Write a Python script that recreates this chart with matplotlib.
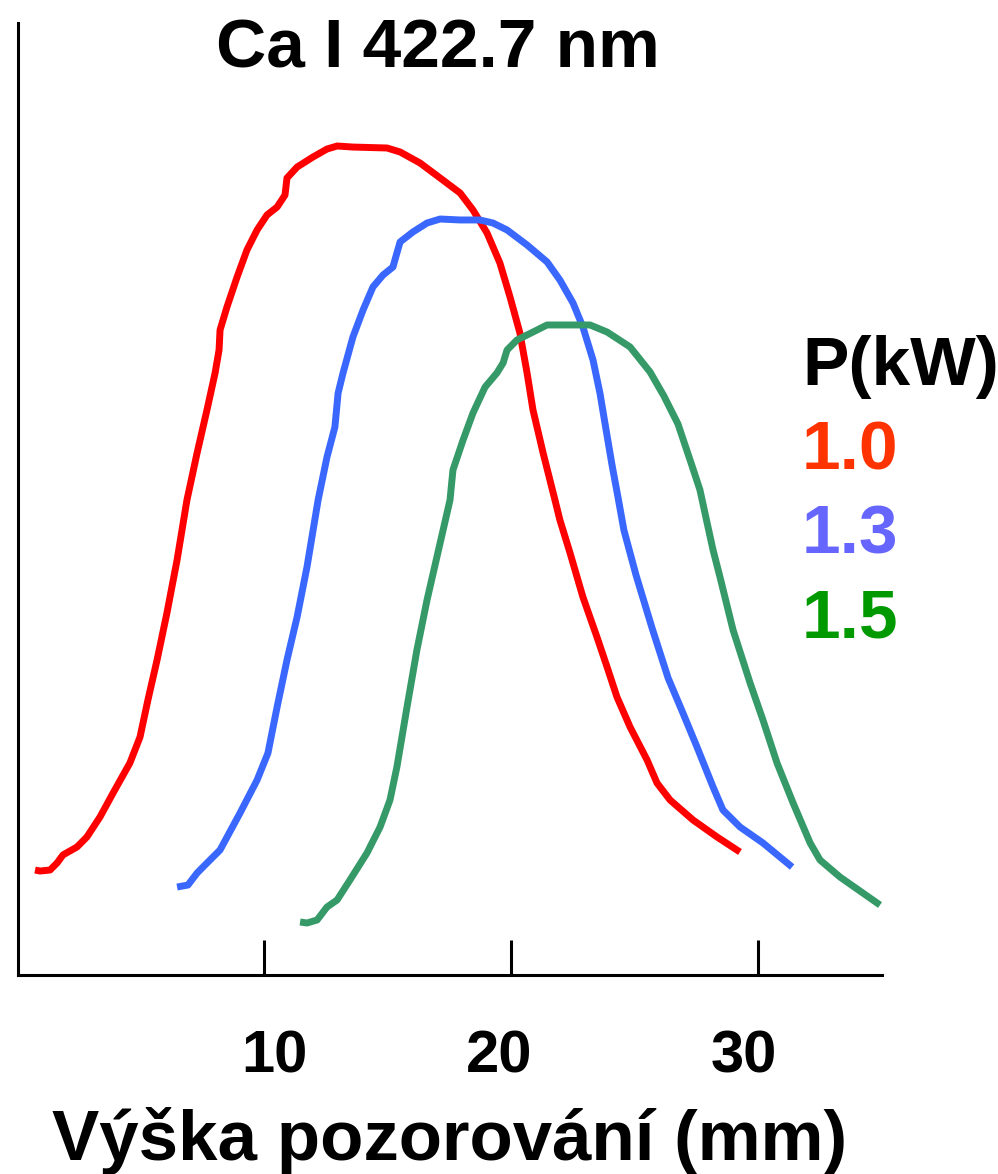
import numpy as np
import matplotlib
matplotlib.use('Agg')
import matplotlib.pyplot as plt
import matplotlib.transforms as mtrans

plt.rcParams['font.family'] = ['Liberation Sans', 'DejaVu Sans']
plt.rcParams['font.weight'] = 'bold'

# vyska pozorovani (mm) a relativni intenzita
x_10 = [0.73, 0.93, 1.34, 1.62, 1.86, 2.43, 2.83, 3.36, 3.89, 4.57, 4.98, 5.30, 5.67, 6.07, 6.48, 6.88,
        7.29, 7.69, 8.02, 8.18, 8.22, 8.50, 8.91, 9.31, 9.72, 10.12, 10.53, 10.85, 10.93, 11.34, 11.98,
        12.55, 12.96, 13.60, 14.98, 15.51, 16.32, 17.13, 17.94, 18.46, 19.03, 19.55, 19.96, 20.36, 20.65,
        20.89, 21.30, 21.78, 21.98, 22.39, 22.91, 23.48, 23.89, 24.29, 24.82, 25.51, 25.91, 26.44, 27.37,
        28.34, 29.27]
y_10 = [11.03, 10.92, 11.03, 11.76, 12.61, 13.45, 14.50, 16.60, 19.12, 22.27, 25.00, 28.89, 33.09, 38.03,
        43.59, 49.89, 54.83, 59.35, 63.24, 65.65, 67.75, 70.17, 73.32, 76.16, 78.26, 79.83, 80.67, 81.93,
        83.72, 84.87, 85.92, 86.76, 87.08, 86.97, 86.87, 86.45, 85.29, 83.72, 82.14, 80.36, 77.94, 74.79,
        71.22, 67.44, 63.24, 59.35, 54.83, 49.89, 47.79, 44.33, 39.71, 35.50, 32.35, 29.20, 26.05, 22.58,
        20.17, 18.38, 16.28, 14.50, 12.92]

x_13 = [6.48, 6.92, 7.29, 7.69, 8.22, 9.03, 9.72, 10.16, 10.53, 10.93, 11.34, 11.74, 12.19, 12.55, 12.87,
        13.00, 13.20, 13.60, 14.01, 14.41, 14.82, 15.22, 15.38, 15.51, 16.03, 16.60, 17.13, 17.94, 18.74,
        19.27, 19.84, 20.65, 21.46, 21.98, 22.51, 22.91, 23.32, 23.60, 23.85, 24.09, 24.33, 24.57, 25.06,
        25.71, 26.36, 26.96, 27.53, 28.18, 28.58, 29.27, 30.20, 31.38]
y_13 = [9.24, 9.45, 10.71, 11.76, 13.13, 17.02, 20.48, 23.32, 28.15, 33.09, 37.61, 42.86, 49.89, 54.41,
        57.56, 61.13, 63.24, 67.02, 69.85, 72.27, 73.53, 74.37, 75.84, 77.00, 78.05, 78.99, 79.41, 79.31,
        79.31, 78.99, 78.26, 76.68, 74.90, 73.00, 70.59, 68.07, 64.60, 61.13, 57.25, 53.57, 50.21, 46.74,
        42.02, 36.45, 31.20, 27.52, 23.95, 19.75, 17.33, 15.55, 13.87, 11.34]

x_15 = [11.46, 11.74, 12.15, 12.55, 12.96, 13.48, 14.17, 14.70, 15.10, 15.38, 15.79, 16.19, 16.60, 17.00,
        17.53, 17.65, 18.06, 18.46, 18.95, 19.43, 19.68, 19.84, 20.24, 20.89, 21.46, 22.27, 23.20, 23.89,
        24.82, 25.63, 26.19, 26.76, 27.33, 27.65, 27.94, 28.18, 28.46, 28.99, 29.68, 30.20, 30.77, 31.42,
        32.11, 32.51, 33.32, 34.94]
y_15 = [5.57, 5.46, 5.78, 7.14, 7.88, 9.98, 12.82, 15.55, 18.38, 21.85, 28.15, 34.14, 39.39, 43.91,
        49.89, 53.05, 56.20, 59.03, 61.76, 63.24, 64.29, 65.65, 66.70, 67.54, 68.28, 68.28, 68.28, 67.54,
        65.97, 63.34, 60.82, 57.88, 53.47, 50.95, 47.48, 44.64, 41.81, 36.24, 30.67, 26.79, 22.27, 18.07,
        13.87, 12.08, 10.29, 7.35]

powers = ['1.0', '1.3', '1.5']
line_colors = ['#ff0000', '#3a68ff', '#369a68']
text_colors = ['#ff3300', '#6666ff', '#009900']
xticks = [10, 20, 30]

W, H = 998, 1174
fig = plt.figure(figsize=(W / 100, H / 100), dpi=100)
ax = fig.add_axes([18 / W, 1 - 975 / H, (882 - 18) / W, (975 - 23) / H])

for xs, ys, c in zip([x_10, x_13, x_15], [y_10, y_13, y_15], line_colors):
    ax.plot(xs, ys, color=c, lw=5.0, solid_capstyle='butt', solid_joinstyle='round')

ax.set_xlim(0.04, 35.02)
ax.set_ylim(0, 100)
ax.spines['top'].set_visible(False)
ax.spines['right'].set_visible(False)
ax.spines['left'].set_linewidth(2.2)
ax.spines['bottom'].set_linewidth(2.2)
ax.set_yticks([])
ax.set_xticks(xticks)
ax.set_xticklabels([str(t) for t in xticks], fontsize=43, fontweight='bold')
ax.tick_params(axis='x', direction='in', length=25, width=2.2, pad=39)

# popisky nejsou presne pod carkami
shifts = [10, -12, -14]
for lab, dx in zip(ax.get_xticklabels(), shifts):
    lab.set_transform(lab.get_transform() + mtrans.ScaledTranslation(dx / 100, 0, fig.dpi_scale_trans))

fig.text(438 / W, 1 - 67 / H, 'Ca I 422.7 nm', ha='center', va='baseline', fontsize=50, fontweight='bold')
fig.text(450 / W, 1 - 1160 / H, 'Výška pozorování (mm)', ha='center', va='baseline', fontsize=51,
         fontweight='bold')

fig.text(802 / W, 1 - 385 / H, 'P(kW)', ha='left', va='baseline', fontsize=50, fontweight='bold')
for i, (p, c) in enumerate(zip(powers, text_colors)):
    fig.text(802 / W, 1 - (470 + 84 * i) / H, p, ha='left', va='baseline', fontsize=50,
             fontweight='bold', color=c)

fig.savefig('out.png', dpi=100)
